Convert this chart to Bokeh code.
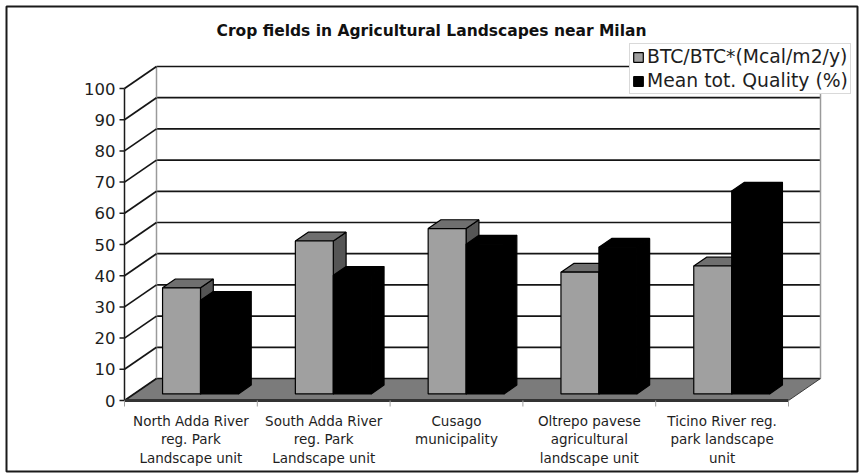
from bokeh.plotting import figure
from bokeh.models import Range1d, Legend, LegendItem
from bokeh.core.properties import value
from bokeh.embed import file_html
from bokeh.resources import INLINE

# ---- data ---------------------------------------------------------------
title_text = "Crop fields in Agricultural Landscapes near Milan"
categories = [
    "North Adda River\nreg. Park\nLandscape unit",
    "South Adda River\nreg. Park\nLandscape unit",
    "Cusago\nmunicipality",
    "Oltrepo pavese\nagricultural\nlandscape unit",
    "Ticino River reg.\npark landscape\nunit",
]
series_names = ["BTC/BTC*(Mcal/m2/y)", "Mean tot. Quality (%)"]
btc = [34, 49, 53, 39, 41]
quality = [30, 38, 48, 47, 65]
y_ticks = [0, 10, 20, 30, 40, 50, 60, 70, 80, 90, 100]

# ---- layout of the 3-D box (pixels) -------------------------------------
W, H = 862, 476
FRAME_L, FRAME_R, FRAME_T, FRAME_B = 6, 857, 6, 471
ORIGIN_X, ORIGIN_Y = 124, 400      # front-left corner of the floor
CAT_PX = 132.8                     # width of one category on the front plane
UNIT_PX = 3.12                     # pixels per value unit
DEPTH_X_PX, DEPTH_Y_PX = 32, 22    # offset of the back wall

DX = DEPTH_X_PX / CAT_PX
DY = DEPTH_Y_PX / UNIT_PX
N = len(categories)
YMAX = y_ticks[-1]

BAR_W = 1 / 3.5                    # two bars plus a 150% gap per category
FIRST = 0.75 * BAR_W
D0, D1 = 0.3, 0.7                  # depth span of the bars

FONT_NAME = "DejaVu Sans"
FONT = value(FONT_NAME)
TEXT_COLOR = "#1e1e1e"

p = figure(
    width=W, height=H,
    x_range=Range1d((FRAME_L - ORIGIN_X) / CAT_PX, (FRAME_R - ORIGIN_X) / CAT_PX),
    y_range=Range1d((ORIGIN_Y - FRAME_B) / UNIT_PX, (ORIGIN_Y - FRAME_T) / UNIT_PX),
    x_axis_type=None, y_axis_type=None,
    output_backend="svg", toolbar_location=None,
    min_border_left=FRAME_L, min_border_right=W - FRAME_R,
    min_border_top=FRAME_T, min_border_bottom=H - FRAME_B,
)
p.grid.visible = False
p.background_fill_color = "white"
p.border_fill_color = "white"
p.outline_line_color = "#1a1a1a"
p.outline_line_width = 2

# ---- walls and floor ----------------------------------------------------
p.patch([0, N, N + DX, DX], [0, 0, DY, DY],
        fill_color="#7b7b7b", line_color="#3a3a3a", line_width=1)

# back wall gridlines
p.segment(x0=[DX] * len(y_ticks), y0=[t + DY for t in y_ticks],
          x1=[N + DX] * len(y_ticks), y1=[t + DY for t in y_ticks],
          line_color="#151515", line_width=1.7)
# back wall side edges
p.segment(x0=[DX, N + DX], y0=[DY, DY], x1=[DX, N + DX], y1=[YMAX + DY, YMAX + DY],
          line_color="#9a9a9a", line_width=1.5)
# side wall gridlines
p.segment(x0=[0] * len(y_ticks), y0=y_ticks, x1=[DX] * len(y_ticks),
          y1=[t + DY for t in y_ticks], line_color="#151515", line_width=1.7)

# value axis
p.segment(x0=[0], y0=[0], x1=[0], y1=[YMAX], line_color="#1a1a1a", line_width=1.5)
tick_len = 5 / CAT_PX
p.segment(x0=[-tick_len] * len(y_ticks), y0=y_ticks, x1=[0] * len(y_ticks), y1=y_ticks,
          line_color="#1a1a1a", line_width=1.5)
p.text(x=[0] * len(y_ticks), y=y_ticks, text=[str(t) for t in y_ticks],
       x_offset=-9, text_align="right", text_baseline="middle",
       text_font=FONT, text_font_size="16.5px", text_color=TEXT_COLOR)

# category axis
p.segment(x0=[0], y0=[0], x1=[N], y1=[0], line_color="#333333", line_width=3)
cat_edges = list(range(N + 1))
p.segment(x0=cat_edges, y0=[0] * len(cat_edges), x1=cat_edges,
          y1=[-6 / UNIT_PX] * len(cat_edges), line_color="#a0a0a0", line_width=1)
p.text(x=[i + 0.5 for i in range(N)], y=[0] * N, text=categories,
       y_offset=12, text_align="center", text_baseline="top",
       text_line_height=1.18,
       text_font=FONT, text_font_size="13.5px", text_color=TEXT_COLOR)

# ---- 3-D bars -----------------------------------------------------------
def faces(values, slot):
    front = ([], [])
    top = ([], [])
    side = ([], [])
    for i, v in enumerate(values):
        x0 = i + FIRST + slot * BAR_W
        x1 = x0 + BAR_W
        fx0, fx1 = x0 + D0 * DX, x1 + D0 * DX
        bx0, bx1 = x0 + D1 * DX, x1 + D1 * DX
        fb, ft = D0 * DY, v + D0 * DY
        bb, bt = D1 * DY, v + D1 * DY
        front[0].append([fx0, fx1, fx1, fx0]); front[1].append([fb, fb, ft, ft])
        top[0].append([fx0, fx1, bx1, bx0]); top[1].append([ft, ft, bt, bt])
        side[0].append([fx1, bx1, bx1, fx1]); side[1].append([fb, bb, bt, ft])
    return front, top, side

styles = [
    ("#a0a0a0", "#6f6f6f", "#555555"),   # BTC/BTC*
    ("#000000", "#000000", "#000000"),   # Mean tot. Quality
]
front_renderers = []
for slot, (vals, (c_front, c_top, c_side)) in enumerate(zip([btc, quality], styles)):
    fr, tp, sd = faces(vals, slot)
    p.patches(xs=sd[0], ys=sd[1], fill_color=c_side, line_color="black", line_width=1.2)
    p.patches(xs=tp[0], ys=tp[1], fill_color=c_top, line_color="black", line_width=1.2)
    r = p.patches(xs=fr[0], ys=fr[1], fill_color=c_front, line_color="black", line_width=1.2)
    front_renderers.append(r)

# ---- title --------------------------------------------------------------
p.text(x=[(W / 2 - ORIGIN_X) / CAT_PX], y=[(ORIGIN_Y - 30) / UNIT_PX], text=[title_text],
       text_align="center", text_baseline="middle",
       text_font=FONT, text_font_style="bold", text_font_size="15.5px", text_color="#111111")

# ---- legend -------------------------------------------------------------
legend = Legend(
    items=[LegendItem(label=n, renderers=[r]) for n, r in zip(series_names, front_renderers)],
    location=(623, 377),
    label_text_font=FONT_NAME, label_text_font_size="18.8px", label_text_color=TEXT_COLOR,
    glyph_width=12, glyph_height=12, label_standoff=3, label_height=21,
    padding=2, spacing=3, margin=0,
    border_line_color="#b4b4b4", border_line_width=1,
    background_fill_color="white", background_fill_alpha=1,
)
p.add_layout(legend)

open("out.html", "w").write(file_html(p, INLINE))
